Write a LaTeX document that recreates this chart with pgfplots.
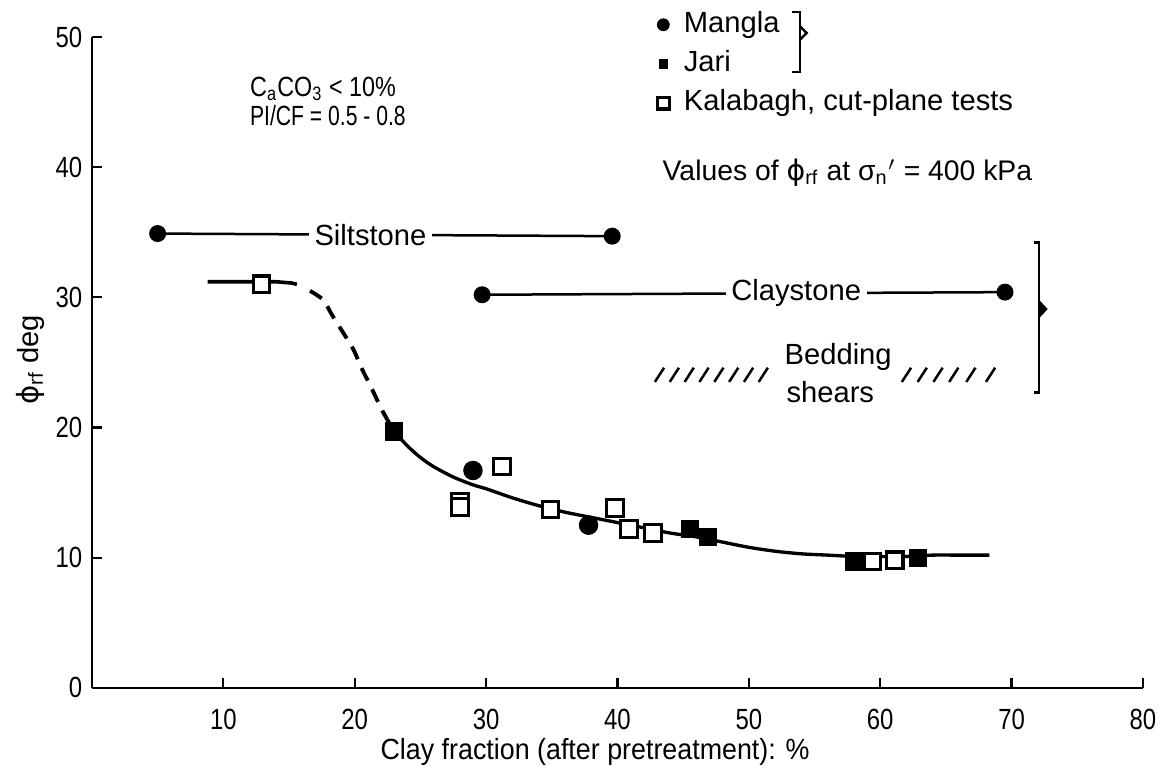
\documentclass[border=0pt]{standalone}
\usepackage{fontspec}
\setmainfont{Liberation Sans}
\newfontfamily\symfont{DejaVu Sans}
\usepackage{graphicx}
\usepackage{pgfplots}
\pgfplotsset{compat=1.18}

\begin{document}
\begin{tikzpicture}
\begin{axis}[
  scale only axis,
  width=378.3pt, height=234.3pt,
  xmin=0, xmax=80, ymin=0, ymax=50,
  axis x line=bottom, axis y line=left,
  axis line style={-, line width=0.9pt},
  xtick={10,20,...,80}, ytick={0,10,...,50},
  tick align=inside, major tick length=3.6pt,
  tick style={line width=0.8pt, black},
  xticklabel={\scalebox{0.82}[1]{\pgfmathprintnumber[assume math mode=true]{\tick}}},
  yticklabel={\scalebox{0.82}[1]{\pgfmathprintnumber[assume math mode=true]{\tick}}},
  x tick label style={yshift=-4pt},
  ticklabel style={font=\fontsize{10.5}{12}\selectfont},
  clip=false,
  legend style={draw=none, fill=none, at={(axis cs:42.9,52.1)}, anchor=north west,
    font=\fontsize{10.5}{12}\selectfont, row sep=3.6pt, column sep=0pt, inner sep=0pt,
    nodes={inner sep=0pt, text height=8pt, text depth=2.5pt},
    cells={anchor=west}},
  legend image code/.code={%
    \draw[#1] plot coordinates {(0pt,0pt)};
    \path[draw=none, fill=none] (-2.6pt,0pt) (7.4pt,0pt);},
]
% key entries
\addlegendimage{only marks, mark=*, mark size=2.1pt, black}
\addlegendentry{Mangla}
\addlegendimage{only marks, mark=square*, mark size=1.5pt, black}
\addlegendentry{Jari}
\addlegendimage{only marks, mark=square*, mark size=2.1pt, black, mark options={fill=white, line width=1.2pt}}
\addlegendentry{Kalabagh, cut-plane tests}

% trend curve: flat part, dashed transition, solid tail
\addplot[forget plot, line width=1.3pt, black] coordinates {
  (8.8,31.2) (10,31.2) (12,31.2) (14,31.2) (15.2,31.1) (15.6,31.0)};
\addplot[forget plot, line width=1.4pt, black, dash pattern=on 5pt off 3.5pt, smooth] coordinates {
  (16.6,30.5) (17.6,29.8) (18.3,28.6) (19.3,27.0) (19.9,26.0) (20.6,24.4) (21.2,23.2) (22.1,21.3) (23.0,19.7)};
\addplot[forget plot, line width=1.2pt, black, smooth] coordinates {
  (23.0,19.7) (24,18.6) (25,17.7) (26,17.0) (27.5,16.2) (29,15.6) (30,15.3) (32,14.6)
  (34,14.0) (36,13.5) (38,13.1) (40,12.7) (42,12.3) (44,11.9) (46,11.6) (48,11.2)
  (50,10.8) (52,10.5) (54,10.3) (56,10.2) (58,10.1) (60,10.1) (62,10.1) (64,10.2)
  (66,10.2) (68.3,10.2)};

% Siltstone and Claystone ranges
\addplot[forget plot, line width=0.9pt, black, mark=*, mark size=2.6pt] coordinates {(5.0,34.9) (39.6,34.7)};
\addplot[forget plot, line width=0.9pt, black, mark=*, mark size=2.6pt] coordinates {(29.7,30.2) (69.5,30.4)};
\node[fill=white, inner xsep=2pt, font=\fontsize{10.5}{12}\selectfont] at (axis cs:21.2,34.8) {Siltstone};
\node[fill=white, inner xsep=2pt, font=\fontsize{10.5}{12}\selectfont] at (axis cs:53.6,30.3) {Claystone};

% Mangla
\addplot[forget plot, only marks, mark=*, mark size=3.3pt, black] coordinates {
  (29.0,16.7) (37.8,12.5)};
% Jari
\addplot[forget plot, only marks, mark=square*, mark size=3.1pt, black] coordinates {
  (23.0,19.7) (45.5,12.2) (46.9,11.6) (58.0,9.7) (62.9,10.0)};
% Kalabagh
\addplot[forget plot, only marks, mark=square*, mark size=3.0pt, black,
  mark options={fill=white, line width=1.1pt}] coordinates {
  (12.9,31.0) (28.0,14.3) (28.0,13.9) (31.2,17.0) (34.9,13.7) (39.8,13.8)
  (40.9,12.2) (42.7,11.9) (59.4,9.7) (61.1,9.8)};

% bedding shears hatching
\pgfplotsinvokeforeach{43.2,44.33,45.46,46.59,47.72,48.85,49.98,51.1}{
  \draw[line width=0.9pt] ([xshift=-1.65pt,yshift=-2.55pt]axis cs:#1,24.05) -- ([xshift=1.65pt,yshift=2.55pt]axis cs:#1,24.05);
}
\pgfplotsinvokeforeach{62.0,63.2,64.4,65.6,66.9,68.4}{
  \draw[line width=0.9pt] ([xshift=-1.65pt,yshift=-2.55pt]axis cs:#1,24.05) -- ([xshift=1.65pt,yshift=2.55pt]axis cs:#1,24.05);
}
\node[font=\fontsize{10.5}{12}\selectfont] at (axis cs:56.8,25.4) {Bedding};
\node[font=\fontsize{10.5}{12}\selectfont] at (axis cs:56.2,22.7) {shears};

% right bracket grouping claystone and bedding shears
\draw[line width=0.9pt] (axis cs:71.7,34.2) -- (axis cs:72.1,34.2) -- (axis cs:72.1,22.7) -- (axis cs:71.7,22.7);
\fill (axis cs:72.1,29.8) -- (axis cs:72.75,29.1) -- (axis cs:72.1,28.4) -- cycle;

% bracket grouping Mangla and Jari in the key
\draw[line width=0.9pt] (axis cs:53.3,51.9) -- (axis cs:53.9,51.9) -- (axis cs:53.9,47.3) -- (axis cs:53.3,47.3);
\draw[line width=0.9pt] (axis cs:53.9,50.8) -- (axis cs:54.4,50.3) -- (axis cs:53.9,49.8);

% annotations
\node[anchor=west, inner sep=0pt, font=\fontsize{10}{12}\selectfont] at (axis cs:12.0,46.0)
  {\scalebox{0.84}[1]{C\textsubscript{a}CO\textsubscript{3} < 10\%}};
\node[anchor=west, inner sep=0pt, font=\fontsize{10}{12}\selectfont] at (axis cs:12.0,44.0)
  {\scalebox{0.76}[1]{PI/CF = 0.5 - 0.8}};
\node[anchor=west, inner sep=0pt, font=\fontsize{10.2}{12}\selectfont] at (axis cs:43.4,39.6)
  {Values of {\symfont ϕ}\textsubscript{rf} at σ\textsubscript{n}$'$ = 400 kPa};

% axis titles
\node[rotate=90, font=\fontsize{10.5}{12}\selectfont] at (axis cs:-4.7,25.2)
  {{\symfont ϕ}\textsubscript{rf} deg};
\node[font=\fontsize{10.5}{12}\selectfont] at (axis cs:38.3,-4.9)
  {\scalebox{0.92}[1]{Clay fraction (after pretreatment): \%}};

\coordinate (bbSW) at (axis cs:-7.0,-7.22);
\coordinate (bbNE) at (axis cs:81.83,52.84);
\end{axis}
\pgfresetboundingbox
\useasboundingbox (bbSW) rectangle (bbNE);
\end{tikzpicture}
\end{document}
